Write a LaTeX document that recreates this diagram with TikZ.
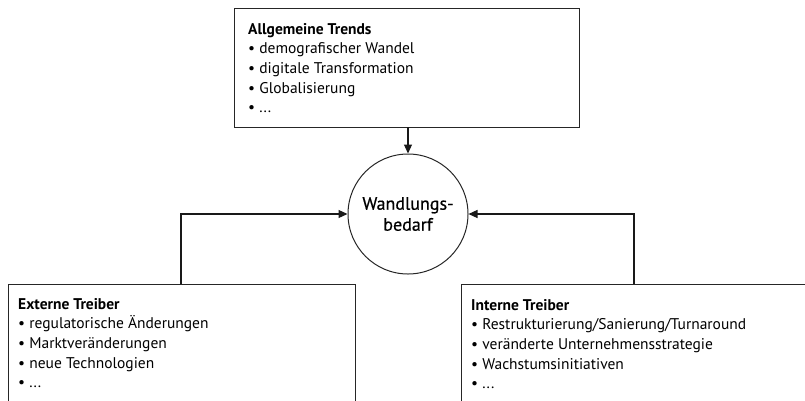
\documentclass[tikz,border=0pt]{standalone}
\usepackage{fontspec}
\setmainfont{PT Sans}
\newfontfamily\hubfont[FakeBold=0.6]{PT Sans}
\usetikzlibrary{arrows.meta}
\begin{document}
\begin{tikzpicture}[x=1pt,y=-1pt,
  frame/.style={draw=black!85,line width=1pt},
  listtext/.style={anchor=north west,inner sep=0pt,align=left,
    font=\fontsize{15.5}{19.6}\selectfont},
  link/.style={draw=black!90,line width=1.2pt,-{Triangle[length=9pt,width=8pt]}},
  hub/.style={circle,draw=black!85,line width=1pt,minimum size=120pt,inner sep=0pt,
    align=center,font=\hubfont\fontsize{18}{21}\selectfont}]
\useasboundingbox (0,0) rectangle (805,400);
\clip (0,0) rectangle (805,400);
% boxes
\draw[frame] (234,8) rectangle (579,127);
\coordinate (topS) at (408,127);
\draw[frame] (8,284) rectangle (355,430);
\coordinate (extN) at (181,284);
\draw[frame] (461,284) rectangle (840,430);
\coordinate (intN) at (634,284);
% box contents
\node[listtext] (trends) at (248,23) {\textbf{Allgemeine Trends}\\
  • demografischer Wandel\\ • digitale Transformation\\ • Globalisierung\\ • ...};
\node[listtext] (extern) at (18,298) {\textbf{Externe Treiber}\\
  • regulatorische Änderungen\\ • Marktveränderungen\\ • neue Technologien\\ • ...};
\node[listtext] (intern) at (471,299) {\textbf{Interne Treiber}\\
  • Restrukturierung/Sanierung/Turnaround\\ • veränderte Unternehmensstrategie\\ • Wachstumsinitiativen\\ • ...};
% central circle
\node[hub] (need) at (408,214) {Wandlungs-\\bedarf};
% connectors
\draw[link] (topS) -- (need.north);
\draw[link] (extN) |- (need.west);
\draw[link] (intN) |- (need.east);
\end{tikzpicture}
\end{document}
